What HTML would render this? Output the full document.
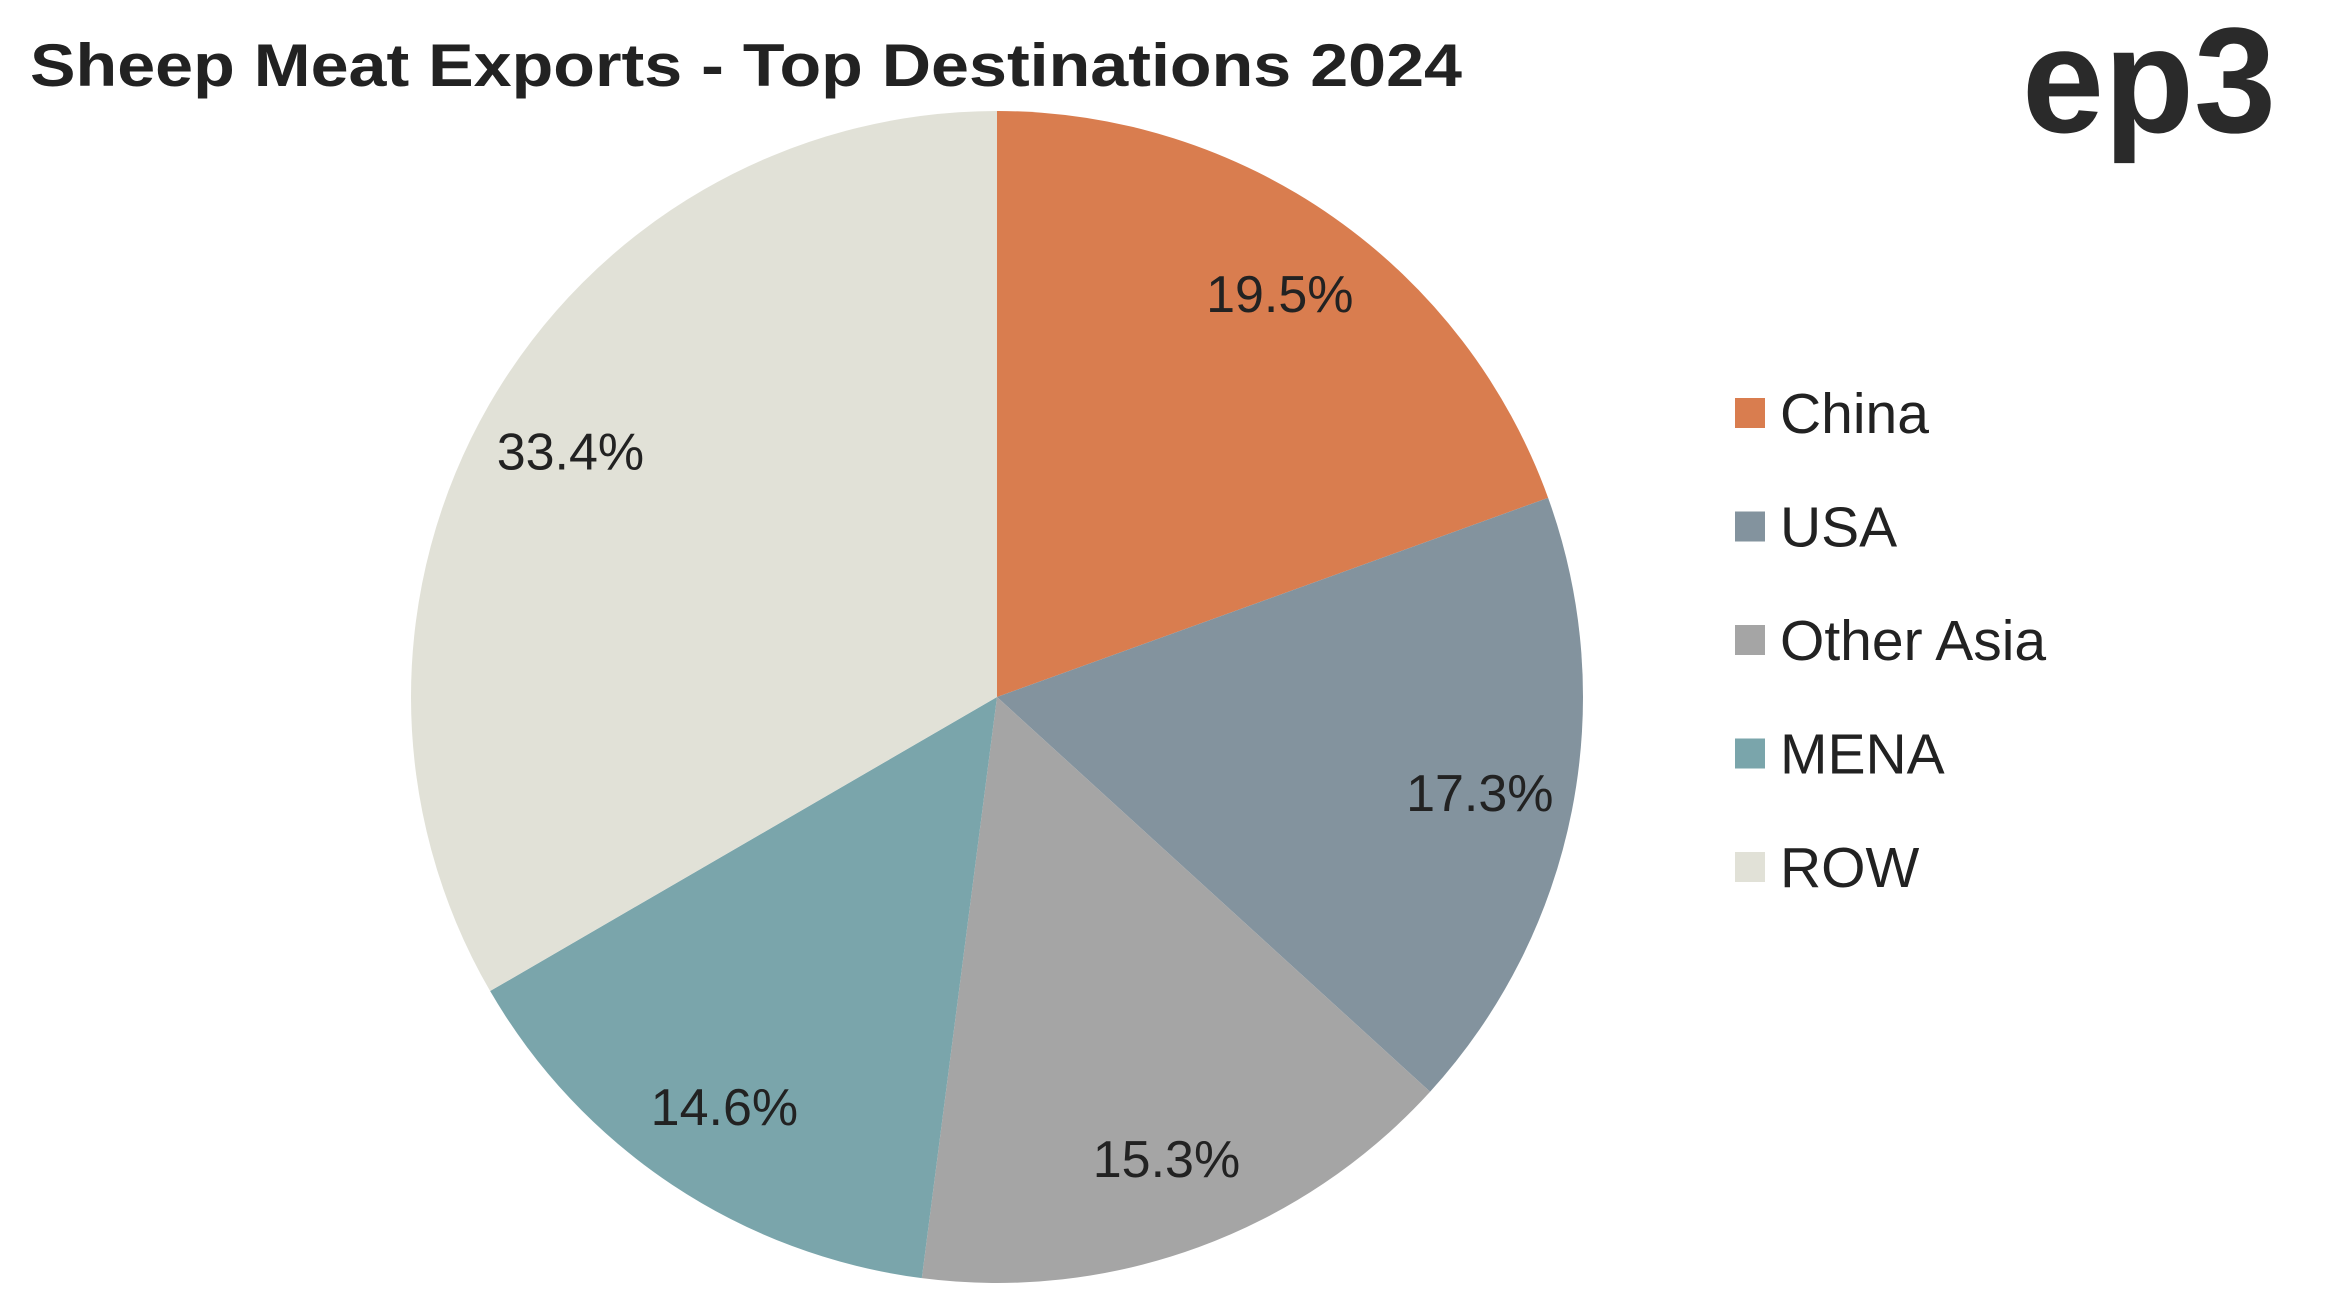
<!DOCTYPE html>
<html><head><meta charset="utf-8"><style>
body{margin:0;background:#fff;width:2337px;height:1297px;overflow:hidden;font-family:"Liberation Sans",sans-serif}
</style></head><body>
<svg width="2337" height="1297" id="chart">
<text x="30" y="86" font-size="60" font-weight="bold" fill="#222" textLength="1432" lengthAdjust="spacingAndGlyphs">Sheep Meat Exports - Top Destinations 2024</text>
<text x="2022" y="132" font-size="150" font-weight="bold" fill="#2a2a2a" textLength="254" lengthAdjust="spacingAndGlyphs">ep3</text>
<g id="slices"></g><g id="labels"></g><g id="legend"></g>
</svg>
<script>
const categories=["China","USA","Other Asia","MENA","ROW"];
const values=[19.5,17.3,15.3,14.6,33.4];
const colors=["#D97D4F","#83939E","#A5A5A5","#7AA5AB","#E1E1D7"];
const NS="http://www.w3.org/2000/svg";
const cx=997,cy=697,r=586,lr=0.84*r;
const total=values.reduce((a,b)=>a+b,0);
function pt(a,rad){return [cx+rad*Math.sin(a),cy-rad*Math.cos(a)];}
let a0=0;
const sg=document.getElementById('slices'),lg=document.getElementById('labels'),leg=document.getElementById('legend');
values.forEach((v,i)=>{
  const a1=a0+v/total*2*Math.PI;
  const [x0,y0]=pt(a0,r),[x1,y1]=pt(a1,r);
  const p=document.createElementNS(NS,'path');
  p.setAttribute('d',`M${cx},${cy}L${x0},${y0}A${r},${r} 0 ${a1-a0>Math.PI?1:0} 1 ${x1},${y1}Z`);
  p.setAttribute('fill',colors[i]);
  
  
  sg.appendChild(p);
  const [lx,ly]=pt((a0+a1)/2,lr);
  const t=document.createElementNS(NS,'text');
  t.setAttribute('x',lx);t.setAttribute('y',ly+18);
  t.setAttribute('text-anchor','middle');t.setAttribute('font-size','52');t.setAttribute('fill','#222');
  t.textContent=v.toFixed(1)+'%';
  
  
  lg.appendChild(t);
  a0=a1;
  const y=413+i*113.5;
  const g=document.createElementNS(NS,'g');
  
  
  const s=document.createElementNS(NS,'rect');
  s.setAttribute('x',1735);s.setAttribute('y',y-15);s.setAttribute('width',30);s.setAttribute('height',30);s.setAttribute('fill',colors[i]);
  const lt=document.createElementNS(NS,'text');
  lt.setAttribute('x',1780);lt.setAttribute('y',y+20);lt.setAttribute('font-size','57');lt.setAttribute('fill','#222');
  lt.textContent=categories[i];
  g.appendChild(s);g.appendChild(lt);leg.appendChild(g);
});
</script>
</body></html>
